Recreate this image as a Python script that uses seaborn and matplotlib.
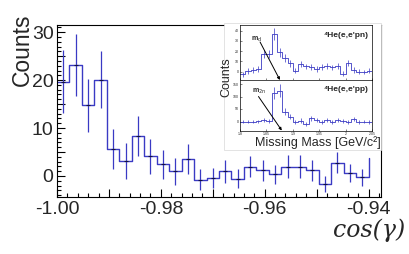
import numpy as np
import pandas as pd
import seaborn as sns
import matplotlib.pyplot as plt
from matplotlib.patches import Rectangle
from matplotlib.ticker import MultipleLocator, FixedLocator, FuncFormatter

# main histogram: cos(gamma), bins of 0.0024 starting at -1
cos_lo = -1.0
cos_width = 0.0024
counts = [19.7, 23.1, 14.7, 20.1, 5.6, 3.1, 8.4, 4.1, 2.4, 1.0, 3.5, -0.8, -0.5,
          1.0, -0.6, 1.9, 1.2, 0.3, 1.9, 1.9, 1.2, -1.7, 2.8, 0.6, -0.3]
count_err = [6.5, 6.5, 5.5, 5.9, 4.2, 3.7, 4.2, 3.6, 3.1, 2.8, 3.1, 2.2, 2.1,
             2.4, 2.0, 2.2, 2.2, 2.0, 2.4, 2.4, 2.2, 1.6, 2.2, 1.9, 1.7]
last_edge = 3.8
x_ticks = [-1.00, -0.98, -0.96, -0.94]
y_ticks = [0, 10, 20, 30]

# inset: missing mass, 0.01 GeV bins from 1.80
mm_lo = 1.80
mm_width = 0.01
pn_counts = [-2.5, 0.5, 1.5, 2.5, 17.5, 17, 37, 19, 13, 8, 1, 7, 5, 4.5, 2.5,
             4.5, 5.5, 4, 5.5, -2, 8, 1.5, 0, -0.5, 1]
pn_err = [2.5, 2.5, 2.5, 2.8, 4, 4, 6, 4.5, 4, 3.2, 2.8, 3, 2.8, 2.8, 2.6,
          2.8, 2.8, 2.6, 2.8, 2.5, 3, 2.5, 2.2, 2.2, 2.2]
pp_counts = [0, -1, 0, 1, 8, 4, 116, 124, 40, 20, -2, 4, -10, 14, 5, -1, 6,
             0, 7, 1, -3, 10, -2, 0, -1]
pp_err = [6, 6, 6, 7, 8, 8, 24, 25, 14, 11, 8, 9, 8, 10, 8, 8, 9, 8, 9, 8,
          8, 9, 8, 7, 7]
m_d = 1.8756
m_2n = 1.8791
mm_ticks = [1.8, 1.85, 1.9, 1.95, 2.0, 2.05]
mm_labels = ['1.8', '1.85', '1.9', '1.95', '2', '2.05']

sns.set_theme(style='ticks')
plt.rcParams['font.family'] = ['Liberation Sans', 'DejaVu Sans']
blue = '#3a3ac4'

fig = plt.figure(figsize=(4.09, 2.54), dpi=100)
W, H = 409, 254
ax = fig.add_axes([57 / W, 1 - 197 / H, 324 / W, 172 / H])

edges = cos_lo + cos_width * np.arange(len(counts) + 1)
centers = edges[:-1] + cos_width / 2
step_df = pd.DataFrame({'x': edges, 'y': counts + [last_edge]})
sns.lineplot(data=step_df, x='x', y='y', drawstyle='steps-post', estimator=None,
             sort=False, color=blue, lw=1.0, ax=ax)
ax.errorbar(centers, counts, yerr=count_err, fmt='none', ecolor=blue,
            elinewidth=0.9, capsize=0)
ax.plot(centers, counts, ls='none', marker='_', ms=3, mew=0.8, color='#14143c')

ax.set_xlim(cos_lo, -0.9376)
ax.set_ylim(-4.4, 31.5)
ax.set_xlabel('')
ax.set_ylabel('')
ax.xaxis.set_major_locator(MultipleLocator(0.01))
ax.xaxis.set_minor_locator(MultipleLocator(0.002))
ax.xaxis.set_major_formatter(FuncFormatter(
    lambda v, p: f'{v:.2f}' if any(abs(v - t) < 1e-6 for t in x_ticks) else ''))
ax.yaxis.set_major_locator(MultipleLocator(5))
ax.yaxis.set_minor_locator(MultipleLocator(1))
ax.yaxis.set_major_formatter(FuncFormatter(
    lambda v, p: f'{v:.0f}' if any(abs(v - t) < 1e-6 for t in y_ticks) else ''))
ax.tick_params(which='both', direction='in', labelsize=14, width=0.8,
               color='black', top=False, right=False)
ax.tick_params(which='major', length=6)
ax.tick_params(which='minor', length=3)
ax.tick_params(axis='x', pad=3)
ax.tick_params(axis='y', pad=2.5)
for s in ax.spines.values():
    s.set_color('black')
    s.set_linewidth(0.8)

fig.text(22 / W, 1 - 14 / H, 'Counts', rotation=90, ha='center', va='top',
         fontsize=16.5)
fig.text(405 / W, 1 - 230 / H, 'cos(γ)', ha='right', va='center',
         family='DejaVu Serif', style='italic', fontsize=17)

# inset picture background
fig.patches.append(Rectangle((224 / W, 1 - 150 / H), 157 / W, 127 / H,
                             transform=fig.transFigure, facecolor='white',
                             edgecolor='#d8d8d8', lw=0.5, zorder=5))

ax1 = fig.add_axes([240 / W, 1 - 80 / H, 132 / W, 55 / H], zorder=10)
ax2 = fig.add_axes([240 / W, 1 - 130.5 / H, 132 / W, 50.5 / H], zorder=10)

mm_edges = mm_lo + mm_width * np.arange(len(pn_counts) + 1)
mm_centers = mm_edges[:-1] + mm_width / 2
for a, vals, errs in [(ax1, pn_counts, pn_err), (ax2, pp_counts, pp_err)]:
    d = pd.DataFrame({'x': mm_edges, 'y': vals + [vals[-1]]})
    sns.lineplot(data=d, x='x', y='y', drawstyle='steps-post', estimator=None,
                 sort=False, color=blue, lw=0.6, ax=a)
    a.errorbar(mm_centers, vals, yerr=errs, fmt='none', ecolor=blue,
               elinewidth=0.5, capsize=0)
    a.set_xlim(mm_lo, 2.05)
    a.set_xlabel('')
    a.set_ylabel('')
    a.tick_params(direction='in', length=1.5, width=0.4, labelsize=2.5, pad=1)
    for s in a.spines.values():
        s.set_color('black')
        s.set_linewidth(0.5)
    a.xaxis.set_major_locator(FixedLocator(mm_ticks))

ax1.set_ylim(-8.3, 45.7)
ax1.set_yticks([0, 10, 20, 30, 40])
ax1.set_xticklabels([])
ax2.set_ylim(-36, 166)
ax2.set_yticks([0, 50, 100, 150])
ax2.set_xticklabels(mm_labels)

ax1.text(0.97, 0.88, "⁴He(e,e'pn)", transform=ax1.transAxes, ha='right',
         va='top', fontsize=6, weight='bold')
ax2.text(0.97, 0.88, "⁴He(e,e'pp)", transform=ax2.transAxes, ha='right',
         va='top', fontsize=6, weight='bold')
ax1.text(1.821, 32, r'm$_{\rm d}$', fontsize=5, weight='bold', va='center')
ax2.text(1.822, 120, r'm$_{\rm 2n}$', fontsize=5, weight='bold', va='center')
ax1.annotate('', xy=(m_d, -8.3), xytext=(1.838, 29),
             arrowprops=dict(arrowstyle='-|>', lw=0.7, color='black',
                             mutation_scale=4, shrinkA=0, shrinkB=0))
ax2.annotate('', xy=(m_2n, -36), xytext=(1.835, 100),
             arrowprops=dict(arrowstyle='-|>', lw=0.7, color='black',
                             mutation_scale=4, shrinkA=0, shrinkB=0))

fig.text(226 / W, 1 - 77 / H, 'Counts', rotation=90, ha='center',
         va='center', fontsize=9, zorder=11)
fig.text(381 / W, 1 - 143 / H, 'Missing Mass [GeV/c²]', ha='right',
         va='center', fontsize=9, zorder=11)

fig.savefig('out.png', dpi=100)
